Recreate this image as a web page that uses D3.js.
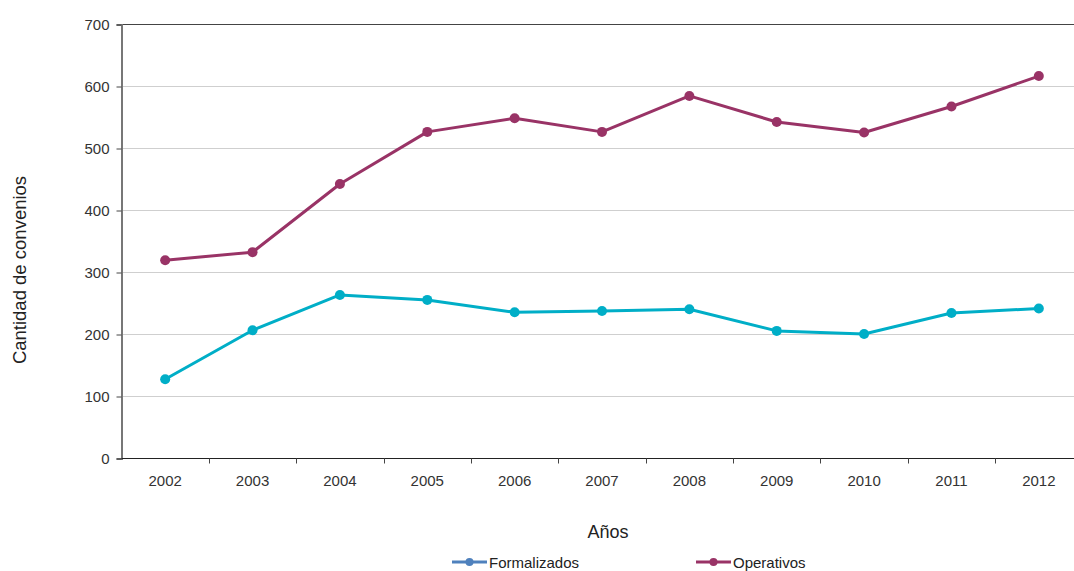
<!DOCTYPE html>
<html><head><meta charset="utf-8">
<script src="https://cdn.jsdelivr.net/npm/d3@7"></script>
<style>body{margin:0;background:#fff}svg{display:block}text{font-family:"Liberation Sans",Arial,sans-serif}</style>
</head><body>
<svg id="c" width="1074" height="571"></svg>
<script>
const years = ["2002","2003","2004","2005","2006","2007","2008","2009","2010","2011","2012"];
const formalizados = [127, 206, 263, 255, 235, 237, 240, 205, 200, 234, 241];
const operativos = [319, 332, 442, 526, 548, 526, 584, 542, 525, 567, 616];
const yTicks = [0,100,200,300,400,500,600,700];
const seriesNames = ["Formalizados","Operativos"];
const lineColors = ["#00AEC7","#993366"];
const legendColors = ["#4F81BD","#993366"];

(function(){
const svg = d3.select("#c");
const pLeft = 121.5, pRight = 1082.5, pTop = 24, pBottom = 458;
const xb = d3.scaleBand().domain(years).range([pLeft, pRight]);
const x = d3.scalePoint().domain(years).range([pLeft, pRight]).padding(0.5);
const y = d3.scaleLinear().domain([0,700]).range([pBottom, pTop]);

// gridlines
svg.append("g").selectAll("line").data(yTicks.filter(d=>d>0 && d<700)).join("line")
  .attr("x1", pLeft).attr("x2", 1074).attr("y1", d=>y(d)+0.5).attr("y2", d=>y(d)+0.5)
  .attr("stroke", "#cfcfcf").attr("stroke-width", 1);
// top line
svg.append("line").attr("x1", pLeft).attr("x2", 1074).attr("y1", y(700)+0.5).attr("y2", y(700)+0.5)
  .attr("stroke", "#444").attr("stroke-width", 1);

// y axis
const yAxis = d3.axisLeft(y).tickValues(yTicks).tickSize(5).tickPadding(7);
const gy = svg.append("g").attr("transform", `translate(${pLeft},0.5)`).call(yAxis);
gy.select(".domain").attr("stroke", "#777").attr("stroke-width", 2);
gy.selectAll(".tick line").attr("stroke", "#444");
gy.selectAll("text").attr("font-size", 15).attr("fill", "#333");

// x axis
const xAxis = d3.axisBottom(xb).tickSize(0).tickPadding(17);
const gx = svg.append("g").attr("transform", `translate(0,${pBottom+0.5})`).call(xAxis);
gx.select(".domain").attr("d", `M${pLeft},0H1074`).attr("stroke", "#222").attr("stroke-width", 1);
gx.selectAll("text").attr("font-size", 15).attr("fill", "#333");
gx.selectAll(".bt").data(years.slice(1)).join("line")
  .attr("x1", d=>Math.round(xb(d))+0.5).attr("x2", d=>Math.round(xb(d))+0.5)
  .attr("y1", 0).attr("y2", 5).attr("stroke", "#444");

// axis titles
svg.append("text").attr("transform", "translate(26,270) rotate(-90)")
  .attr("text-anchor", "middle").attr("font-size", 18.5).attr("fill", "#222").text("Cantidad de convenios");
svg.append("text").attr("x", 608).attr("y", 538).attr("text-anchor", "middle")
  .attr("font-size", 18).attr("fill", "#222").text("Años");

// series
const data = [formalizados, operativos];
const line = d3.line().x((d,i)=>x(years[i])).y(d=>y(d));
data.forEach((s, k) => {
  svg.append("path").attr("d", line(s)).attr("fill", "none")
    .attr("stroke", lineColors[k]).attr("stroke-width", 3).attr("stroke-linejoin", "round");
  svg.append("g").selectAll("circle").data(s).join("circle")
    .attr("cx", (d,i)=>x(years[i])).attr("cy", d=>y(d)).attr("r", 5).attr("fill", lineColors[k]);
});

// legend
const lx = [452, 696];
seriesNames.forEach((n, k) => {
  const g = svg.append("g").attr("transform", `translate(${lx[k]},562)`);
  g.append("line").attr("x1", 0).attr("x2", 35).attr("y1", 0).attr("y2", 0)
    .attr("stroke", legendColors[k]).attr("stroke-width", 3);
  g.append("circle").attr("cx", 17.5).attr("cy", 0).attr("r", 4).attr("fill", legendColors[k]);
  g.append("text").attr("x", 37).attr("y", 5.5).attr("font-size", 15).attr("fill", "#222").text(n);
});
})();
</script>
</body></html>
